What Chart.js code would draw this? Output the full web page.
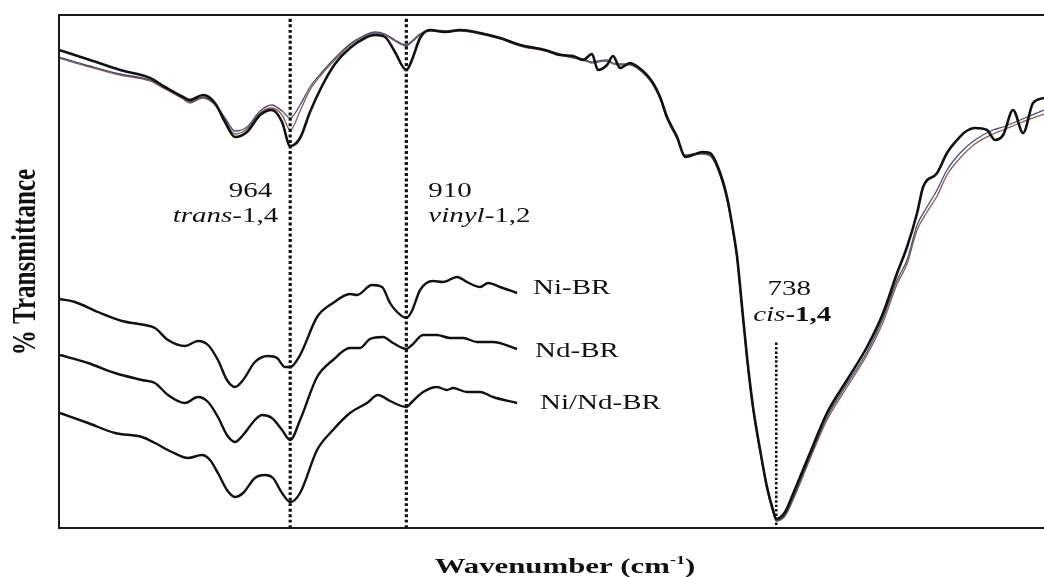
<!DOCTYPE html>
<html>
<head>
<meta charset="utf-8">
<script src="https://cdn.jsdelivr.net/npm/chart.js@4/dist/chart.umd.min.js"></script>
<style>
  html, body { margin: 0; padding: 0; background: #ffffff; }
  canvas { display: block; }
</style>
</head>
<body>
<canvas id="ftir" width="1044" height="577"></canvas>
<script>
// FTIR spectra of polybutadiene samples, [wavenumber (cm-1), transmittance (a.u.)]

// Overlaid full-range spectra
const overlayNi = [
  [1071.5,95.6],[1057.1,93.6],[1043.1,91.6],[1029.2,90.0],[1022.2,88.2],[1013.8,86.2],[1010.6,85.6],[1004.5,86.6],
  [999.0,85.0],[994.3,81.2],[989.7,78.2],[984.1,79.2],[978.0,82.6],[972.5,83.6],[967.8,81.2],[964,76.4],
  [959.4,78.0],[954.8,83.2],[949.2,88.4],[943.2,92.8],[936.2,96.0],[929.2,98.0],[924.6,98.6],[919.9,98.2],
  [915.3,95.2],[910,91.6],[907.4,93.6],[903.6,98.0],[899.0,99.6],[892.0,99.2],[885.0,99.6],[875.7,99.0],
  [866.4,98.0],[857.1,96.6],[845.5,95.6],[838.5,94.6],[832.5,94.4],[827.8,93.6],[823.7,94.8],[820.9,91.6],
  [816.7,92.6],[813.9,94.4],[810.6,92.0],[806.0,93.0],[802.3,92.2],[798.1,90.6],[795.3,89.0],[792.0,86.2],
  [788.8,82.2],[784.1,78.2],[780.4,74.2],[776.7,74.6],[772.5,75.2],[768.8,75.0],[765.1,72.2],[760.9,66.2],
  [758.1,59.6],[756.2,54.2],[753.9,44.2],[751.6,34.2],[748.8,24.2],[745.5,15.6],[742.3,8.2],[739.5,3.6],
  [738,1.8],[733.9,3.2],[730.2,6.8],[722.3,15.0],[714.4,23.0],[705.1,29.6],[695.8,36.2],[688.3,43.0],
  [681.8,51.0],[677.2,56.2],[672.5,63.0],[669.7,68.2],[663.2,71.0],[658.6,75.0],[653.9,77.6],[650.2,79.2],
  [645.6,80.0],[640.0,79.6],[636.3,77.6],[632.5,78.6],[627.9,83.6],[623.2,79.0],[618.6,85.0],[613.5,86.0]
];
const overlayNd = [
  [1071.5,94.2],[1057.1,92.4],[1043.1,90.8],[1029.2,89.6],[1022.2,88.0],[1013.8,86.0],[1010.6,85.2],[1004.5,86.2],
  [999.0,84.8],[994.3,82.0],[989.7,79.4],[984.1,80.2],[978.0,83.4],[972.5,84.6],[967.8,83.4],[964,82.0],
  [959.4,84.6],[954.8,88.2],[949.2,91.2],[943.2,94.0],[936.2,96.8],[929.2,98.6],[924.6,99.2],[919.9,98.8],
  [915.3,97.6],[910,96.6],[907.4,97.4],[903.6,98.8],[899.0,99.6],[892.0,99.4],[885.0,99.6],[875.7,99.0],
  [866.4,98.0],[857.1,96.6],[845.5,95.6],[838.5,94.8],[832.5,94.2],[827.8,93.8],[823.7,93.2],[820.9,93.4],
  [816.7,93.6],[813.9,93.0],[810.6,92.8],[806.0,92.8],[802.3,92.0],[798.1,90.4],[795.3,88.8],[792.0,86.0],
  [788.8,82.0],[784.1,78.0],[780.4,74.6],[776.7,74.8],[772.5,75.0],[768.8,74.6],[765.1,71.8],[760.9,65.8],
  [758.1,59.4],[756.2,54.0],[753.9,44.0],[751.6,34.0],[748.8,24.0],[745.5,15.4],[742.3,8.0],[739.5,3.4],
  [738,1.6],[733.9,2.6],[730.2,6.0],[722.3,14.2],[714.4,22.2],[705.1,28.8],[695.8,35.2],[688.3,42.0],
  [681.8,49.6],[677.2,53.6],[672.5,60.6],[667.9,64.2],[663.2,67.6],[658.6,71.6],[652.5,75.0],[645.6,77.6],
  [637.2,79.6],[632.5,80.2],[624.6,81.6],[613.5,83.6]
];
const overlayNiNd = [
  [1071.5,94.0],[1057.1,92.2],[1043.1,90.6],[1029.2,89.4],[1022.2,87.8],[1013.8,85.8],[1010.6,85.0],[1004.5,86.0],
  [999.0,84.6],[994.3,81.6],[989.7,78.8],[984.1,79.8],[978.0,83.0],[972.5,84.0],[967.8,82.6],[964,79.6],
  [959.4,83.4],[954.8,87.6],[949.2,90.8],[943.2,93.6],[936.2,96.6],[929.2,98.4],[924.6,99.0],[919.9,98.6],
  [915.3,97.4],[910,96.4],[907.4,97.2],[903.6,98.6],[899.0,99.4],[892.0,99.2],[885.0,99.4],[875.7,98.8],
  [866.4,97.8],[857.1,96.4],[845.5,95.4],[838.5,94.6],[832.5,94.0],[827.8,93.6],[823.7,93.0],[820.9,93.2],
  [816.7,93.4],[813.9,92.8],[810.6,92.6],[806.0,92.6],[802.3,91.8],[798.1,90.2],[795.3,88.6],[792.0,85.8],
  [788.8,81.8],[784.1,77.8],[780.4,74.4],[776.7,74.6],[772.5,74.8],[768.8,74.4],[765.1,71.6],[760.9,65.6],
  [758.1,59.2],[756.2,53.8],[753.9,43.8],[751.6,33.8],[748.8,23.8],[745.5,15.2],[742.3,7.8],[739.5,3.2],
  [738,1.4],[733.9,2.4],[730.2,5.6],[722.3,13.8],[714.4,21.6],[705.1,28.2],[695.8,34.6],[688.3,41.2],
  [681.8,48.8],[677.2,52.8],[672.5,59.6],[667.9,63.2],[663.2,66.4],[658.6,70.6],[652.5,74.0],[645.6,76.8],
  [637.2,78.8],[632.5,79.6],[624.6,81.0],[613.5,82.8]
];

// Expanded 1070-860 cm-1 region, offset for clarity
const expandedNi = [
  [1071.0,45.8],[1064.1,45.2],[1053.4,43.2],[1042.2,41.4],[1031.5,40.6],[1026.9,40.0],[1020.8,37.6],[1012.9,36.4],
  [1006.9,37.4],[1002.2,36.6],[997.6,33.6],[993.4,29.6],[989.7,28.2],[985.9,29.6],[980.4,33.2],[974.3,34.4],
  [970.1,34.0],[966.4,32.2],[964,32.2],[959.4,34.6],[951.5,42.2],[944.1,45.0],[936.2,46.8],[932.9,46.6],
  [926.0,48.6],[921.3,48.2],[917.6,45.0],[914.3,43.2],[910,42.0],[907.4,43.4],[903.6,47.6],[897.6,49.4],
  [892.9,49.2],[886.4,50.2],[881.8,49.2],[875.7,48.2],[872.0,49.0],[866.4,48.2],[858.5,47.0]
];
const expandedNd = [
  [1071.0,34.6],[1058.0,33.0],[1045.5,31.0],[1032.9,29.6],[1026.9,29.0],[1020.8,26.6],[1012.9,25.0],[1006.9,26.2],
  [1002.2,25.2],[997.6,22.2],[993.4,18.6],[989.7,17.2],[985.9,18.6],[980.4,21.6],[977.1,22.6],[972.5,22.0],
  [967.8,19.6],[964,17.6],[959.4,21.6],[951.5,30.2],[944.1,33.6],[936.2,36.0],[931.5,36.0],[926.9,37.8],
  [920.8,38.2],[916.2,37.0],[910,35.8],[907.4,36.6],[902.2,38.6],[895.7,38.6],[889.7,38.0],[883.6,38.0],
  [877.1,37.2],[869.7,37.2],[858.5,35.8]
];
const expandedNiNd = [
  [1071.0,23.0],[1058.0,21.0],[1045.5,19.0],[1032.9,18.2],[1026.9,17.0],[1019.0,15.2],[1011.5,14.0],[1005.0,14.6],
  [1001.3,13.6],[997.6,11.0],[993.4,7.6],[989.7,6.2],[985.9,7.0],[980.4,10.0],[975.7,10.6],[972.0,10.0],
  [967.8,7.0],[964,5.2],[959.4,7.0],[951.5,15.6],[944.1,19.6],[936.2,23.0],[928.3,25.0],[923.2,26.6],
  [917.6,25.4],[910,24.2],[907.4,25.2],[902.2,27.2],[895.7,28.2],[891.1,27.6],[888.3,28.0],[881.8,27.2],
  [875.7,27.2],[869.7,26.2],[858.5,25.0]
];

// Band assignments
const bandWavenumbers = [964, 910, 738];
const bandValues = ['964', '910', '738'];
const bandIsomers = ['trans', 'vinyl', 'cis'];
const bandPositions = ['-1,4', '-1,2', '-1,4'];
const sampleNames = ['Ni-BR', 'Nd-BR', 'Ni/Nd-BR'];

const xTitle = 'Wavenumber (cm';
const xTitleSup = '-1';
const yTitle = '% Transmittance';

const toXY = arr => arr.map(p => ({ x: p[0], y: p[1] }));

const SERIF = '"Liberation Serif", "DejaVu Serif", serif';
const STRETCH = 1.38;

// Draws a run of differently styled text pieces, widened horizontally
function drawRun(ctx, parts, x, y, align, stretch) {
  let w = 0;
  parts.forEach(p => { ctx.font = p.font; w += ctx.measureText(p.text).width; });
  const start = align === 'right' ? -w : align === 'center' ? -w / 2 : 0;
  ctx.save();
  ctx.translate(x, y);
  ctx.scale(stretch, 1);
  ctx.fillStyle = '#111';
  ctx.textBaseline = 'alphabetic';
  ctx.textAlign = 'left';
  let cx = start;
  parts.forEach(p => {
    ctx.font = p.font;
    ctx.fillText(p.text, cx, p.dy || 0);
    cx += ctx.measureText(p.text).width;
  });
  ctx.restore();
}

const framePlugin = {
  id: 'frame',
  afterDatasetsDraw(chart) {
    const { ctx, chartArea: a } = chart;
    ctx.save();
    ctx.strokeStyle = '#1a1a1a';
    ctx.lineWidth = 2;
    ctx.beginPath();
    ctx.moveTo(a.right, a.top);
    ctx.lineTo(a.left, a.top);
    ctx.lineTo(a.left, a.bottom);
    ctx.lineTo(a.right, a.bottom);
    ctx.stroke();
    ctx.restore();
  }
};

const labelPlugin = {
  id: 'labels',
  afterDraw(chart) {
    const { ctx, scales: { x, y } } = chart;
    const reg = '21px ' + SERIF;
    const ital = 'italic 21px ' + SERIF;
    const bold = 'bold 21px ' + SERIF;

    // trans-1,4 (left of its line)
    const x0 = x.getPixelForValue(bandWavenumbers[0]);
    drawRun(ctx, [{ text: bandValues[0], font: reg }], x0 - 18, 197, 'right', STRETCH);
    drawRun(ctx, [{ text: bandIsomers[0], font: ital }, { text: bandPositions[0], font: reg }], x0 - 12, 222, 'right', STRETCH);

    // vinyl-1,2 (right of its line)
    const x1 = x.getPixelForValue(bandWavenumbers[1]);
    drawRun(ctx, [{ text: bandValues[1], font: reg }], x1 + 22, 197, 'left', STRETCH);
    drawRun(ctx, [{ text: bandIsomers[1], font: ital }, { text: bandPositions[1], font: reg }], x1 + 22, 222, 'left', STRETCH);

    // cis-1,4 above the short marker
    const x2 = x.getPixelForValue(bandWavenumbers[2]);
    drawRun(ctx, [{ text: bandValues[2], font: reg }], x2 + 13, 295, 'center', STRETCH);
    drawRun(ctx, [{ text: bandIsomers[2], font: ital }, { text: bandPositions[2], font: bold }], x2 + 16, 321, 'center', STRETCH);

    // sample names at the end of each expanded trace
    const ends = [expandedNi, expandedNd, expandedNiNd].map(s => s[s.length - 1]);
    const offs = [[16, 1], [18, 8], [23, 6]];
    ends.forEach((p, i) => {
      const px = x.getPixelForValue(p[0]) + offs[i][0];
      const py = y.getPixelForValue(p[1]) + offs[i][1];
      drawRun(ctx, [{ text: sampleNames[i], font: reg }], px, py, 'left', STRETCH);
    });

    // axis titles
    const tb = 'bold 22px ' + SERIF;
    drawRun(ctx, [
      { text: xTitle, font: tb },
      { text: xTitleSup, font: 'bold 13px ' + SERIF, dy: -9 },
      { text: ')', font: tb }
    ], 565, 573, 'center', 1.4);

    ctx.save();
    ctx.translate(35, 262);
    ctx.rotate(-Math.PI / 2);
    ctx.scale(1, 1.35);
    ctx.font = 'bold 25px ' + SERIF;
    ctx.fillStyle = '#111';
    ctx.textAlign = 'center';
    ctx.textBaseline = 'alphabetic';
    ctx.fillText(yTitle, 0, 0);
    ctx.restore();
  }
};

const Y_MAX = 102.6;

function bandLine(wn, from, to, width, dash) {
  return {
    data: [{ x: wn, y: from }, { x: wn, y: to }],
    borderColor: '#111', borderWidth: width, borderDash: dash,
    borderCapStyle: 'butt', pointRadius: 0, fill: false
  };
}

new Chart(document.getElementById('ftir'), {
  type: 'line',
  data: {
    datasets: [
      bandLine(bandWavenumbers[0], 0, Y_MAX - 0.3, 3.2, [3, 2.5]),
      bandLine(bandWavenumbers[1], 0, Y_MAX - 0.3, 3.2, [3, 2.5]),
      bandLine(bandWavenumbers[2], 0.6, 37.2, 2.6, [2.5, 2]),
      { data: toXY(overlayNi), borderColor: '#111111', borderWidth: 2.6 },
      { data: toXY(expandedNi), borderColor: '#111111', borderWidth: 2.4 },
      { data: toXY(expandedNd), borderColor: '#111111', borderWidth: 2.4 },
      { data: toXY(expandedNiNd), borderColor: '#111111', borderWidth: 2.4 },
      { data: toXY(overlayNd), borderColor: '#4a4e78', borderWidth: 1.3 },
      { data: toXY(overlayNiNd), borderColor: '#8a5a52', borderWidth: 1.3 }
    ]
  },
  options: {
    responsive: false,
    animation: false,
    devicePixelRatio: 1,
    layout: { padding: { left: 59, top: 15, right: 0, bottom: 49 } },
    plugins: { legend: { display: false }, tooltip: { enabled: false } },
    elements: {
      point: { radius: 0 },
      line: { cubicInterpolationMode: 'monotone', fill: false }
    },
    scales: {
      x: { type: 'linear', reverse: true, min: 613.5, max: 1071.5, display: false },
      y: { type: 'linear', min: 0, max: Y_MAX, display: false }
    }
  },
  plugins: [framePlugin, labelPlugin]
});
</script>
</body>
</html>
